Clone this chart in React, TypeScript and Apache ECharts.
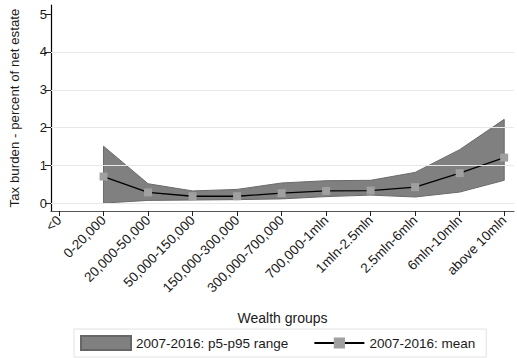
import React, { useEffect, useRef } from "react";
import * as echarts from "echarts";

const categories = [
  "<0",
  "0-20,000",
  "20,000-50,000",
  "50,000-150,000",
  "150,000-300,000",
  "300,000-700,000",
  "700,000-1mln",
  "1mln-2.5mln",
  "2.5mln-6mln",
  "6mln-10mln",
  "above 10mln",
];
// null = no data for that group
const meanValues: (number | null)[] = [null, 0.71, 0.29, 0.19, 0.19, 0.27, 0.33, 0.34, 0.43, 0.8, 1.21];
const p5Values: (number | null)[] = [null, 0.01, 0.08, 0.09, 0.1, 0.12, 0.18, 0.22, 0.17, 0.3, 0.61];
const p95Values: (number | null)[] = [null, 1.51, 0.52, 0.33, 0.37, 0.54, 0.6, 0.61, 0.82, 1.42, 2.22];
const yTicks = [0, 1, 2, 3, 4, 5];
const gridLines = [0, 1, 2, 3, 4];

const FONT = "'Liberation Sans', Arial, sans-serif";

export default function App() {
  const ref = useRef<HTMLDivElement>(null);
  useEffect(() => {
    if (!ref.current) return;
    const chart = echarts.init(ref.current, undefined, { renderer: "svg" });
    const idx = categories.map((_, i) => i);
    const bandData = idx
      .filter((i) => p5Values[i] != null && p95Values[i] != null)
      .map((i) => [i, p5Values[i], p95Values[i]]);
    const meanData = idx.filter((i) => meanValues[i] != null).map((i) => [i, meanValues[i]]);

    chart.setOption({
      animation: false,
      textStyle: { fontFamily: FONT },
      grid: { left: 49, right: 3, top: 5, bottom: 147, containLabel: false },
      xAxis: {
        type: "value",
        min: -0.18,
        max: 10.22,
        name: "Wealth groups",
        nameLocation: "middle",
        nameGap: 100,
        nameTextStyle: { fontSize: 14, color: "#1a1a1a", fontFamily: FONT },
        axisLine: { show: true, onZero: false, lineStyle: { color: "#555", width: 1.2 } },
        axisTick: { show: true, length: 5, customValues: idx, lineStyle: { color: "#222" } },
        axisLabel: {
          customValues: idx,
          rotate: 45,
          margin: 7,
          fontSize: 13.5,
          color: "#1a1a1a",
          fontFamily: FONT,
          formatter: (v: number) => categories[Math.round(v)] ?? "",
        },
        splitLine: { show: false },
      },
      yAxis: {
        type: "value",
        min: -0.2,
        max: 5.24,
        name: "Tax burden - percent of net estate",
        nameLocation: "middle",
        nameGap: 30,
        nameTextStyle: { fontSize: 13.3, color: "#1a1a1a", fontFamily: FONT },
        axisLine: { show: true, onZero: false, lineStyle: { color: "#000", width: 1.2 } },
        axisTick: { show: true, length: 6, customValues: yTicks, lineStyle: { color: "#222" } },
        axisLabel: {
          customValues: yTicks,
          margin: 4,
          fontSize: 13,
          color: "#1a1a1a",
          fontFamily: FONT,
        },
        splitLine: { show: false },
      },
      legend: {
        left: 74,
        top: 329,
        padding: [6, 11, 6, 6],
        borderColor: "#e2e2e2",
        borderWidth: 1,
        itemWidth: 50,
        itemHeight: 14,
        itemGap: 25,
        textStyle: { fontSize: 13.5, color: "#1a1a1a", fontFamily: FONT },
        data: [
          { name: "2007-2016: p5-p95 range", icon: "rect" },
          { name: "2007-2016: mean" },
        ],
      },
      series: [
        {
          type: "line",
          name: "grid",
          data: [],
          z: 1,
          silent: true,
          markLine: {
            silent: true,
            symbol: "none",
            label: { show: false },
            lineStyle: { color: "#e8e8e8", width: 1, type: "solid" },
            data: gridLines.map((g) => ({ yAxis: g })),
          },
        },
        {
          type: "custom",
          name: "2007-2016: p5-p95 range",
          z: 2,
          data: bandData,
          encode: { x: 0, y: [1, 2] },
          itemStyle: { color: "#808080", borderColor: "#666", borderWidth: 1 },
          renderItem: (params: any, api: any) => {
            if (params.dataIndex !== 0) return null;
            const upper = bandData.map((d) => api.coord([d[0], d[2]]));
            const lower = bandData.map((d) => api.coord([d[0], d[1]])).reverse();
            return {
              type: "polygon",
              shape: { points: upper.concat(lower) },
              style: { fill: "#808080", stroke: "#6a6a6a", lineWidth: 1 },
            };
          },
        },
        {
          type: "line",
          name: "2007-2016: mean",
          z: 3,
          data: meanData,
          symbol: "rect",
          symbolSize: 8,
          lineStyle: { color: "#000", width: 1.3 },
          itemStyle: { color: "#a0a0a0" },
        },
      ],
    });
    return () => chart.dispose();
  }, []);
  return <div ref={ref} style={{ width: 517, height: 358, position: "absolute", left: 0, top: 0, background: "#fff" }} />;
}
